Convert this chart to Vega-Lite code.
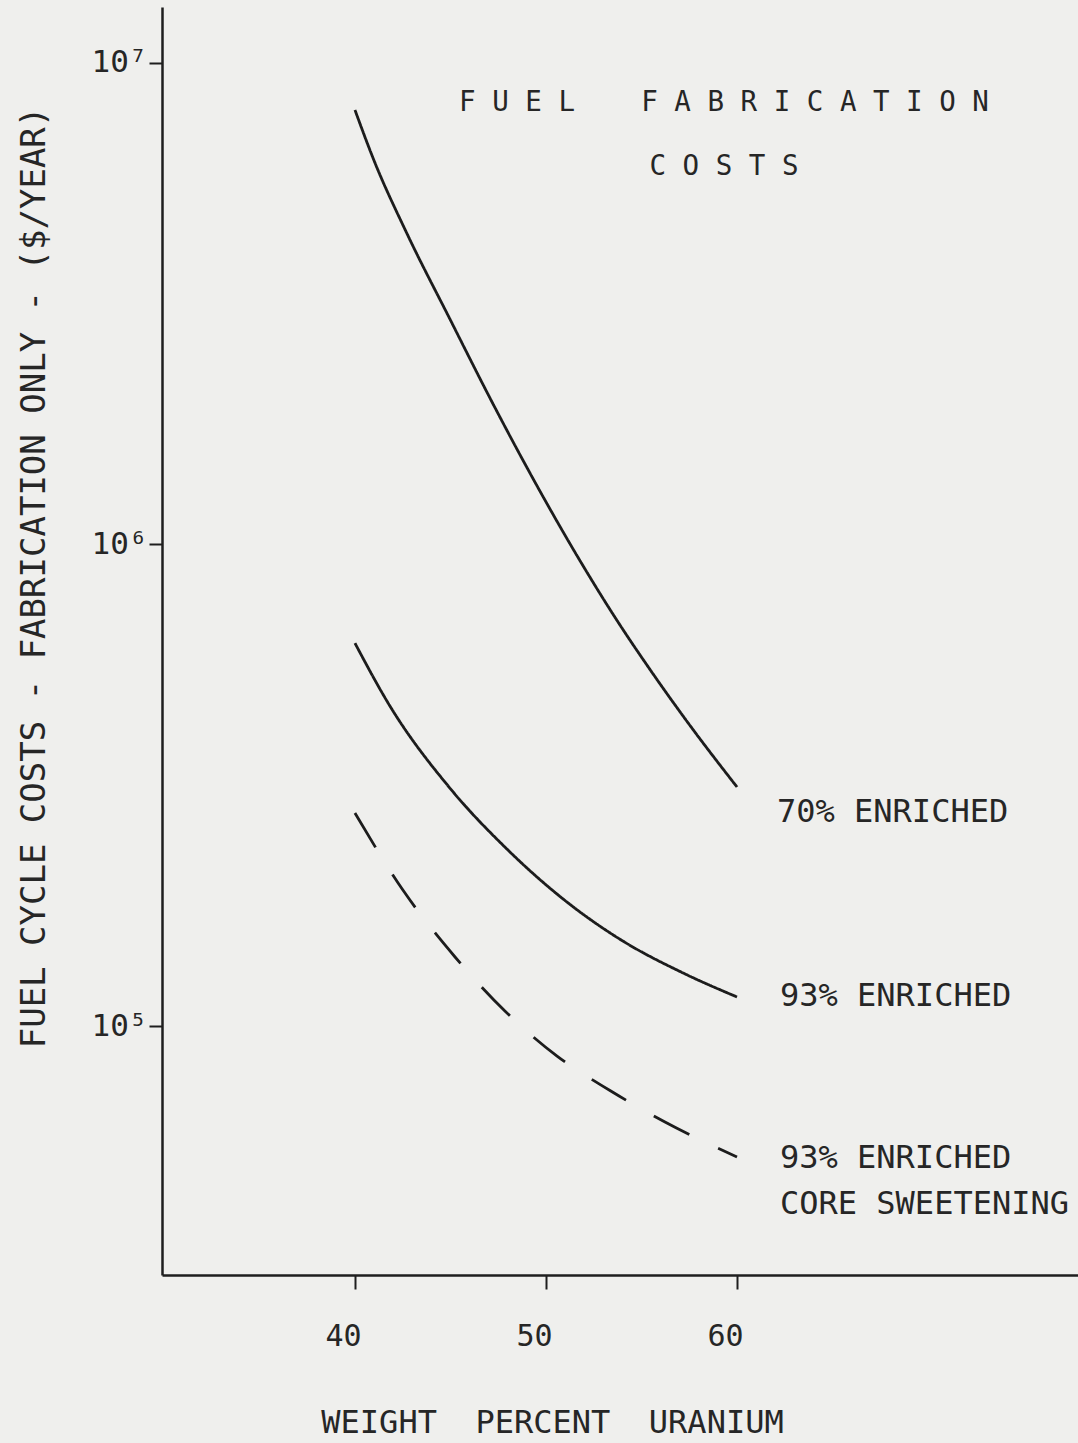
{
  "$schema": "https://vega.github.io/schema/vega-lite/v6.json",
  "width": 916,
  "height": 1268,
  "autosize": {"type": "none"},
  "padding": {"left": 162, "top": 7, "right": 0, "bottom": 168},
  "background": "#efefed",
  "config": {"view": {"stroke": null}, "font": "DejaVu Sans Mono"},
  "title": {
    "text": ["F U E L\u00a0\u00a0\u00a0\u00a0F A B R I C A T I O N", "C O S T S"],
    "orient": "top",
    "anchor": "middle",
    "frame": "group",
    "dx": 104,
    "offset": -173,
    "fontSize": 27.5,
    "fontWeight": "normal",
    "font": "DejaVu Sans Mono",
    "color": "#262626",
    "lineHeight": 64
  },
  "data": {
    "values": [
      {"series": "70% Enriched", "pct": 40, "cost": 7989000},
      {"series": "70% Enriched", "pct": 41, "cost": 6271000},
      {"series": "70% Enriched", "pct": 42.72, "cost": 4426000},
      {"series": "70% Enriched", "pct": 44.97, "cost": 2940000},
      {"series": "70% Enriched", "pct": 47.23, "cost": 1958000},
      {"series": "70% Enriched", "pct": 49.53, "cost": 1324000},
      {"series": "70% Enriched", "pct": 51.78, "cost": 925600},
      {"series": "70% Enriched", "pct": 53.72, "cost": 695300},
      {"series": "70% Enriched", "pct": 55.45, "cost": 549700},
      {"series": "70% Enriched", "pct": 57.54, "cost": 420800},
      {"series": "70% Enriched", "pct": 60, "cost": 313600},
      {"series": "93% Enriched", "pct": 40, "cost": 624000},
      {"series": "93% Enriched", "pct": 41.83, "cost": 462000},
      {"series": "93% Enriched", "pct": 44.97, "cost": 312000},
      {"series": "93% Enriched", "pct": 47.96, "cost": 233000},
      {"series": "93% Enriched", "pct": 51.1, "cost": 180900},
      {"series": "93% Enriched", "pct": 54.03, "cost": 150100},
      {"series": "93% Enriched", "pct": 57.17, "cost": 128900},
      {"series": "93% Enriched", "pct": 60, "cost": 114900},
      {"series": "93% Enriched, core sweetening", "pct": 40, "cost": 277000},
      {"series": "93% Enriched, core sweetening", "pct": 42.51, "cost": 191600},
      {"series": "93% Enriched, core sweetening", "pct": 45.24, "cost": 139100},
      {"series": "93% Enriched, core sweetening", "pct": 47.85, "cost": 107450},
      {"series": "93% Enriched, core sweetening", "pct": 50.58, "cost": 86610},
      {"series": "93% Enriched, core sweetening", "pct": 53.35, "cost": 73450},
      {"series": "93% Enriched, core sweetening", "pct": 56.23, "cost": 63190},
      {"series": "93% Enriched, core sweetening", "pct": 60, "cost": 53440}
    ]
  },
  "encoding": {
    "x": {
      "field": "pct",
      "type": "quantitative",
      "scale": {"domain": [29.9, 77.85], "nice": false, "zero": false},
      "axis": {
        "values": [40, 50, 60],
        "grid": false,
        "domainColor": "#1e1e1e",
        "domainWidth": 2.5,
        "tickColor": "#1e1e1e",
        "tickWidth": 2,
        "tickSize": 14,
        "labelFont": "DejaVu Sans Mono",
        "labelFontSize": 30,
        "labelColor": "#262626",
        "labelPadding": 32,
        "labelOffset": -12,
        "title": "WEIGHT\u00a0\u00a0PERCENT\u00a0\u00a0URANIUM",
        "titleFont": "DejaVu Sans Mono",
        "titleFontSize": 32,
        "titleFontWeight": "normal",
        "titleColor": "#262626",
        "titleX": 390,
        "titleY": 157,
        "titleAlign": "center",
        "titleBaseline": "alphabetic"
      }
    },
    "y": {
      "field": "cost",
      "type": "quantitative",
      "scale": {"type": "log", "domain": [30402, 13070000], "nice": false},
      "axis": {
        "values": [100000, 1000000, 10000000],
        "grid": false,
        "domainColor": "#1e1e1e",
        "domainWidth": 2.5,
        "tickColor": "#1e1e1e",
        "tickWidth": 2,
        "tickSize": 13,
        "labelFont": "DejaVu Sans Mono",
        "labelFontSize": 31,
        "labelColor": "#262626",
        "labelPadding": 2,
        "labelBaseline": "middle",
        "labelExpr": "'10' + (datum.value > 5000000 ? '⁷' : datum.value > 500000 ? '⁶' : '⁵')",
        "title": "FUEL CYCLE COSTS - FABRICATION ONLY - ($/YEAR)",
        "titleFont": "DejaVu Sans Mono",
        "titleFontSize": 34,
        "titleFontWeight": "normal",
        "titleColor": "#262626",
        "titleX": -128,
        "titleY": 570,
        "titleAlign": "center",
        "titleBaseline": "middle",
        "titleAngle": -90
      }
    }
  },
  "layer": [
    {
      "mark": {"type": "line", "interpolate": "monotone", "strokeWidth": 2.8, "color": "#1c1c1c"},
      "encoding": {
        "detail": {"field": "series"},
        "strokeDash": {
          "field": "series",
          "type": "nominal",
          "scale": {
            "domain": ["70% Enriched", "93% Enriched", "93% Enriched, core sweetening"],
            "range": [[1, 0], [1, 0], [40, 32]]
          },
          "legend": null
        }
      }
    },
    {
      "transform": [{"filter": "datum.series == '70% Enriched' && datum.pct == 60"}],
      "mark": {"type": "text", "text": "70% ENRICHED", "align": "left", "baseline": "alphabetic", "dx": 40, "dy": 35, "font": "DejaVu Sans Mono", "fontSize": 32, "color": "#262626"}
    },
    {
      "transform": [{"filter": "datum.series == '93% Enriched' && datum.pct == 60"}],
      "mark": {"type": "text", "text": "93% ENRICHED", "align": "left", "baseline": "alphabetic", "dx": 43, "dy": 9, "font": "DejaVu Sans Mono", "fontSize": 32, "color": "#262626"}
    },
    {
      "transform": [{"filter": "datum.series == '93% Enriched, core sweetening' && datum.pct == 60"}],
      "mark": {"type": "text", "text": ["93% ENRICHED", "CORE SWEETENING"], "lineHeight": 46, "align": "left", "baseline": "alphabetic", "dx": 43, "dy": 11, "font": "DejaVu Sans Mono", "fontSize": 32, "color": "#262626"}
    }
  ]
}
